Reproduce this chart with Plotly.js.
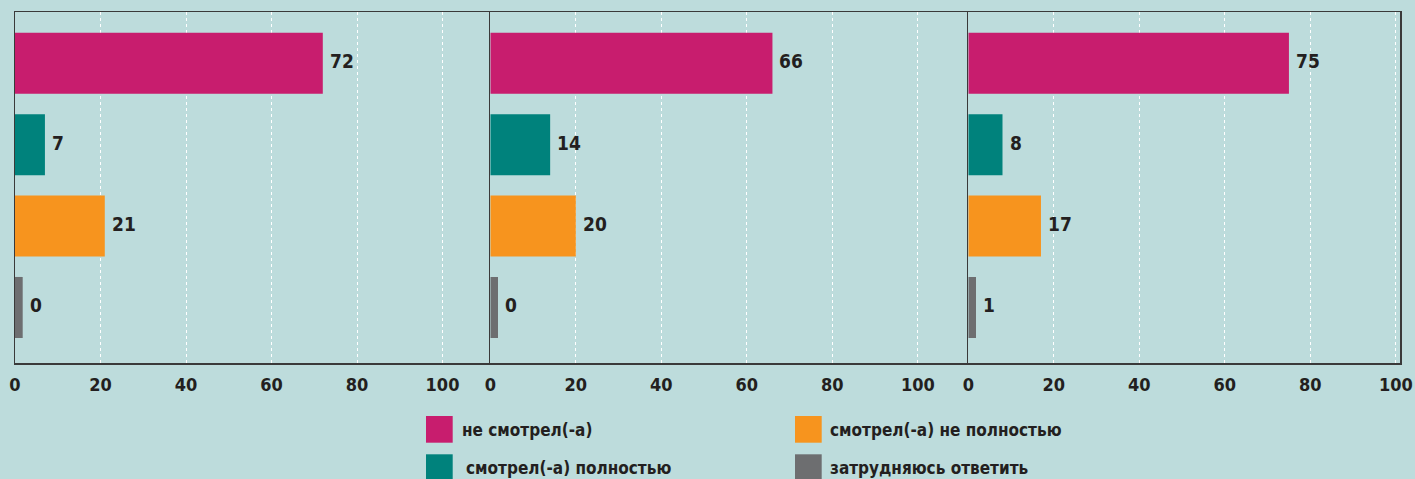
<!DOCTYPE html>
<html>
<head>
<meta charset="utf-8">
<script src="https://cdn.plot.ly/plotly-3.0.1.min.js"></script>
<style>
  html, body { margin: 0; padding: 0; background: #bddcdc; }
  #chart { width: 1415px; height: 479px; }
</style>
</head>
<body>
<div id="chart"></div>
<script>
// ---- data ----
const categories = ['не смотрел(-а)', 'смотрел(-а) полностью', 'смотрел(-а) не полностью', 'затрудняюсь ответить'];
const panel1Values = [72, 7, 21, 0];
const panel2Values = [66, 14, 20, 0];
const panel3Values = [75, 8, 17, 1];
const tickValues = [0, 20, 40, 60, 80, 100];
const tickLabels = ['0', '20', '40', '60', '80', '100'];
const legendOrder = [0, 2, 1, 3]; // row-wise: pink, orange / teal, grey

// ---- styling ----
const colors = ['#c81d6e', '#00827c', '#f7941e', '#6d6e70'];
const bg = '#bddcdc';
const textColor = '#231f20';
const fontFamily = "'DejaVu Sans Condensed', 'Liberation Sans', sans-serif";
const minBarLength = 1.8; // so that zero bars remain visible as a thin stub

const W = 1415, H = 479;
const margin = { l: 15, r: 15, t: 12, b: 116 };
const plotW = W - margin.l - margin.r;
const plotH = H - margin.t - margin.b;
const pxX = px => (px - margin.l) / plotW;
const pxY = py => (H - margin.b - py) / plotH;

const panels = [panel1Values, panel2Values, panel3Values];
const domains = [[0, pxX(490.3)], [pxX(490.3), pxX(968.3)], [pxX(968.3), 1]];
const unitPx = 4.275;

const traces = [];
const annotations = [];
const layout = {
  width: W, height: H,
  margin: margin,
  paper_bgcolor: bg,
  plot_bgcolor: bg,
  showlegend: false,
  annotations: annotations,
  shapes: []
};

panels.forEach((vals, i) => {
  const sfx = i === 0 ? '' : String(i + 1);
  const shown = vals.map(v => Math.max(v, minBarLength));
  traces.push({
    type: 'bar',
    orientation: 'h',
    x: shown,
    y: categories,
    xaxis: 'x' + sfx,
    yaxis: 'y' + sfx,
    width: 0.75,
    marker: { color: colors },
    hoverinfo: 'skip'
  });
  const domPx = (domains[i][1] - domains[i][0]) * plotW;
  layout['xaxis' + sfx] = {
    domain: domains[i],
    range: [0, domPx / unitPx],
    anchor: 'y' + sfx,
    tickvals: tickValues,
    ticktext: tickLabels,
    ticks: 'outside',
    ticklen: 5,
    tickcolor: 'rgba(0,0,0,0)',
    tickfont: { family: fontFamily, size: 18, color: textColor, weight: 'bold' },
    showgrid: true,
    gridcolor: '#ffffff',
    gridwidth: 1,
    griddash: '3px,3px',
    zeroline: false,
    showline: true,
    mirror: true,
    linecolor: '#3a3a3a',
    linewidth: 1.5,
    fixedrange: true
  };
  layout['yaxis' + sfx] = {
    domain: [0, 1],
    anchor: 'x' + sfx,
    type: 'category',
    categoryorder: 'array',
    categoryarray: categories,
    range: [3.682, -0.63],
    showticklabels: false,
    ticks: '',
    showgrid: false,
    zeroline: false,
    showline: true,
    mirror: i === 2,
    linecolor: '#3a3a3a',
    linewidth: 1.5,
    fixedrange: true
  };
  vals.forEach((v, k) => {
    annotations.push({
      xref: 'x' + sfx, yref: 'y' + sfx,
      x: shown[k], y: categories[k],
      text: String(v),
      showarrow: false,
      xanchor: 'left', yanchor: 'middle',
      xshift: 5, yshift: 2,
      font: { family: fontFamily, size: 19, color: textColor, weight: 'bold' }
    });
  });
});

// ---- legend (2 x 2) ----
const legendCols = [426, 795];
const legendRows = [416, 454.3];
const legendTextX = [[460, 828], [464, 828]];
legendOrder.forEach((ci, n) => {
  const r = Math.floor(n / 2), c = n % 2;
  const x0 = legendCols[c], y0 = legendRows[r];
  layout.shapes.push({
    type: 'rect', xref: 'paper', yref: 'paper',
    x0: pxX(x0), x1: pxX(x0 + 26.7),
    y0: pxY(y0), y1: pxY(y0 + 26.7),
    fillcolor: colors[ci], line: { width: 0 }
  });
  annotations.push({
    xref: 'paper', yref: 'paper',
    x: pxX(legendTextX[r][c]), y: pxY(y0 + 14),
    text: categories[ci],
    showarrow: false,
    xanchor: 'left', yanchor: 'middle',
    font: { family: fontFamily, size: 17, color: textColor, weight: 'bold' }
  });
});

Plotly.newPlot('chart', traces, layout, { displayModeBar: false, staticPlot: true });
</script>
</body>
</html>
